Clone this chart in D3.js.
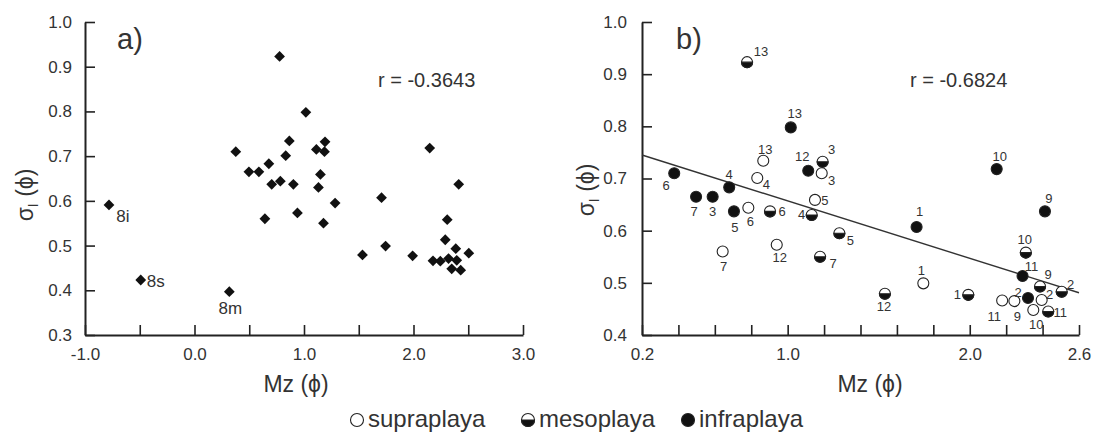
<!DOCTYPE html>
<html>
<head>
<meta charset="utf-8">
<script src="https://cdn.jsdelivr.net/npm/d3@7/dist/d3.min.js"></script>
<style>
body { margin: 0; background: #fff; }
text { font-family: "Liberation Sans", Arial, sans-serif; fill: #333; }
</style>
</head>
<body>
<script>
var w = 1100, h = 434;

// samples per beach zone: id, mean size Mz (phi), sorting sigma I (phi)
var infra = [
	{id: "6", mz: 0.377, s: 0.710}, {id: "7", mz: 0.497, s: 0.665},
	{id: "3", mz: 0.588, s: 0.665}, {id: "4", mz: 0.679, s: 0.683},
	{id: "5", mz: 0.705, s: 0.637}, {id: "13", mz: 1.017, s: 0.798},
	{id: "12", mz: 1.113, s: 0.715}, {id: "1", mz: 1.708, s: 0.607},
	{id: "10", mz: 2.148, s: 0.718}, {id: "9", mz: 2.413, s: 0.637},
	{id: "11", mz: 2.290, s: 0.513}, {id: "2", mz: 2.320, s: 0.471}
];
var supra = [
	{id: "13", mz: 0.866, s: 0.734}, {id: "4", mz: 0.833, s: 0.701},
	{id: "6", mz: 0.784, s: 0.644}, {id: "7", mz: 0.643, s: 0.560},
	{id: "12", mz: 0.940, s: 0.573}, {id: "3", mz: 1.187, s: 0.710},
	{id: "5", mz: 1.150, s: 0.659}, {id: "1", mz: 1.745, s: 0.499},
	{id: "11", mz: 2.178, s: 0.466}, {id: "9", mz: 2.245, s: 0.465},
	{id: "2", mz: 2.395, s: 0.467}, {id: "10", mz: 2.349, s: 0.448}
];
var meso = [
	{id: "13", mz: 0.777, s: 0.923}, {id: "3", mz: 1.192, s: 0.732},
	{id: "6", mz: 0.903, s: 0.637}, {id: "4", mz: 1.132, s: 0.630},
	{id: "5", mz: 1.284, s: 0.595}, {id: "7", mz: 1.178, s: 0.550},
	{id: "12", mz: 1.534, s: 0.479}, {id: "1", mz: 1.992, s: 0.477},
	{id: "10", mz: 2.308, s: 0.558}, {id: "9", mz: 2.386, s: 0.493},
	{id: "2", mz: 2.505, s: 0.483}, {id: "11", mz: 2.431, s: 0.445}
];
// site 8 samples, only in panel a
var site8 = [
	{id: "8i", mz: -0.781, s: 0.591}, {id: "8s", mz: -0.491, s: 0.423},
	{id: "8m", mz: 0.318, s: 0.397}
];
var fitLine = [[0.2, 0.745], [2.6, 0.481]];
var rA = "r = -0.3643", rB = "r = -0.6824";

var xTicksA = [-1, -0.5, 0, 0.5, 1, 1.5, 2, 2.5, 3];
var xLabelsA = [-1, 0, 1, 2, 3];
var yTicksA = [0.3, 0.4, 0.5, 0.6, 0.7, 0.8, 0.9, 1.0];
var xTicksB = [0.2, 0.4, 0.6, 0.8, 1.0, 1.2, 1.4, 1.6, 1.8, 2.0, 2.2, 2.4, 2.6];
var xLabelsB = [0.2, 1.0, 2.0, 2.6];
var yTicksB = [0.4, 0.5, 0.6, 0.7, 0.8, 0.9, 1.0];
var zones = ["supraplaya", "mesoplaya", "infraplaya"];

// label offsets (dx, dy) around the markers of panel b
var offs = {
	i6: [-8, 12], i7: [-2, 15], i3: [0, 15], i4: [0, -13], i5: [1, 16], i13: [4, -14],
	i12: [-6, -14], i1: [3, -16], i10: [3, -13], i9: [4, -13], i11: [9, -10], i2: [-10, -5],
	s13: [2, -11], s4: [9, 7], s6: [2, 14], s7: [1, 15], s12: [3, 13], s3: [10, 7],
	s5: [10, 1], s1: [-2, -13], s11: [-8, 16], s9: [3, 15], s2: [8, -6], s10: [3, 15],
	m13: [14, -11], m3: [9, -12], m6: [12, 0], m4: [-10, -1], m5: [11, 7], m7: [13, 7],
	m12: [-1, 13], m1: [-11, 0], m10: [-1, -13], m9: [8, -12], m2: [9, -7], m11: [12, 1]
};
var offs8 = {"8i": [14, 12], "8s": [15, 1], "8m": [1, 17]};

var svg = d3.select("body").append("svg")
		.attr("width", w)
		.attr("height", h);

var xA = d3.scaleLinear().domain([-1, 3]).range([85, 523]);
var yA = d3.scaleLinear().domain([0.3, 1.0]).range([335, 22]);
var xB = d3.scaleLinear().domain([0.2, 2.6]).range([642, 1079]);
var yB = d3.scaleLinear().domain([0.4, 1.0]).range([335, 22]);

var fmt = function(d) { return d.toFixed(1); };

function has(list, v) {
	return list.some(function(d) { return Math.abs(d - v) < 1e-6; });
}

function axes(x, y, xTicks, xLabels, yTicks, yPad) {
	var gx = svg.append("g")
			.attr("transform", "translate(0," + y.range()[0] + ")")
			.call(d3.axisBottom(x).tickValues(xTicks).tickSizeInner(-10).tickSizeOuter(0).tickPadding(13)
				.tickFormat(function(d) { return has(xLabels, d) ? fmt(d) : ""; }));
	var gy = svg.append("g")
			.attr("transform", "translate(" + x.range()[0] + ",0)")
			.call(d3.axisLeft(y).tickValues(yTicks).tickSizeInner(-10).tickSizeOuter(0).tickPadding(yPad)
				.tickFormat(fmt));
	[gx, gy].forEach(function(g) {
		g.attr("font-size", 17).attr("font-family", null);
		g.select(".domain").attr("stroke", "#222").attr("stroke-width", 2);
		g.selectAll(".tick line").attr("stroke", "#222").attr("stroke-width", 1.6);
		g.selectAll(".tick text").attr("fill", "#444");
	});
}

function titles(cx, ty, tag, tagX, r, rX) {
	svg.append("text").attr("x", cx).attr("y", 392).attr("text-anchor", "middle")
		.attr("font-size", 23).text("Mz (\u03d5)");
	var yt = svg.append("text").attr("transform", "translate(" + ty[0] + "," + ty[1] + ") rotate(-90)")
		.attr("text-anchor", "middle").attr("font-size", 23);
	yt.append("tspan").text("\u03c3");
	yt.append("tspan").attr("font-size", 14).attr("dy", 5).text("I");
	yt.append("tspan").attr("dy", -5).text(" (\u03d5)");
	svg.append("text").attr("x", tagX).attr("y", 49).attr("font-size", 29).text(tag);
	svg.append("text").attr("x", rX).attr("y", 87).attr("font-size", 20).text(r);
}

// ---- panel a
axes(xA, yA, xTicksA, xLabelsA, yTicksA, 13);
titles(296, [33, 195], "a)", 117, rA, 378);

var allPts = supra.concat(meso, infra, site8);
svg.append("g").selectAll("path")
	.data(allPts)
	.enter().append("path")
	.attr("d", d3.symbol().type(d3.symbolSquare).size(58))
	.attr("transform", function(d) { return "translate(" + xA(d.mz) + "," + yA(d.s) + ") rotate(45)"; })
	.attr("fill", "#111");
svg.append("g").selectAll("text")
	.data(site8)
	.enter().append("text")
	.attr("x", function(d) { return xA(d.mz) + offs8[d.id][0]; })
	.attr("y", function(d) { return yA(d.s) + offs8[d.id][1]; })
	.attr("text-anchor", "middle")
	.attr("dominant-baseline", "central")
	.attr("font-size", 17)
	.text(function(d) { return d.id; });

// ---- panel b
axes(xB, yB, xTicksB, xLabelsB, yTicksB, 15);
titles(870, [594, 190], "b)", 676, rB, 910);

svg.append("line")
	.attr("x1", xB(fitLine[0][0])).attr("y1", yB(fitLine[0][1]))
	.attr("x2", xB(fitLine[1][0])).attr("y2", yB(fitLine[1][1]))
	.attr("stroke", "#333").attr("stroke-width", 1.4);

var rr = 5.5;

function marker(g, zone, r) {
	var half = "M" + (-r) + ",0A" + r + "," + r + " 0 0 0 " + r + ",0Z";
	g.append("circle").attr("r", r)
		.attr("fill", zone == "infraplaya" ? "#111" : "#fff")
		.attr("stroke", "#222").attr("stroke-width", 1.1);
	if (zone == "mesoplaya")
		g.append("path").attr("d", half).attr("fill", "#111").attr("stroke", "#222").attr("stroke-width", 1.1);
}

function plotZone(data, zone, key) {
	var g = svg.append("g");
	var pts = g.selectAll("g")
		.data(data)
		.enter().append("g")
		.attr("transform", function(d) { return "translate(" + xB(d.mz) + "," + yB(d.s) + ")"; });
	pts.each(function() { marker(d3.select(this), zone, rr); });
	g.selectAll("text")
		.data(data)
		.enter().append("text")
		.attr("x", function(d) { return xB(d.mz) + offs[key + d.id][0]; })
		.attr("y", function(d) { return yB(d.s) + offs[key + d.id][1]; })
		.attr("text-anchor", "middle")
		.attr("dominant-baseline", "central")
		.attr("font-size", 13)
		.text(function(d) { return d.id; });
}
plotZone(supra, "supraplaya", "s");
plotZone(meso, "mesoplaya", "m");
plotZone(infra, "infraplaya", "i");

// ---- legend
var legX = [357, 528, 688];
zones.forEach(function(z, i) {
	var g = svg.append("g").attr("transform", "translate(" + legX[i] + ",420)");
	marker(g, z, 6.5);
	g.append("text").attr("x", 11).attr("y", 7).attr("font-size", 24).text(z);
});
</script>
</body>
</html>
